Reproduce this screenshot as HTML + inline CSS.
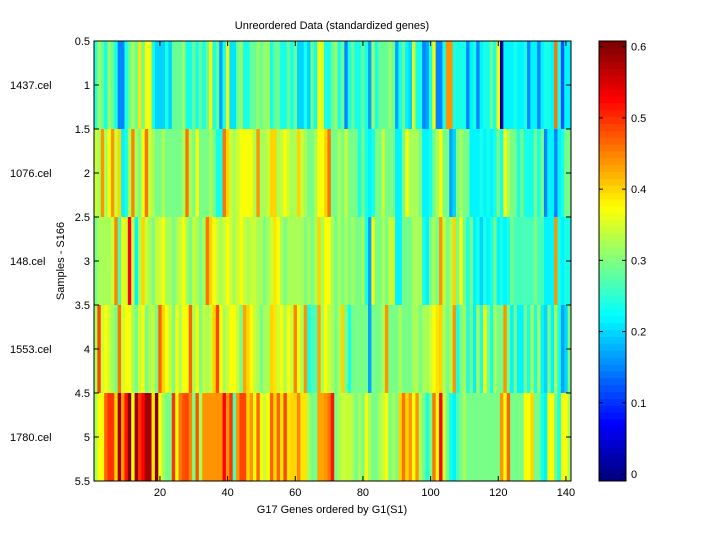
<!DOCTYPE html>
<html><head><meta charset="utf-8"><style>
body{margin:0;background:#fff;}
svg text{font-family:"Liberation Sans",Arial,sans-serif;font-size:11px;fill:#000;}
</style></head><body>
<svg id="chart" width="720" height="540" xmlns="http://www.w3.org/2000/svg">
<rect x="0" y="0" width="720" height="540" fill="#fff"/>
<g id="cells"></g>
<g id="axes"></g>
<g id="cbar"></g>
<text x="332" y="29" text-anchor="middle">Unreordered Data (standardized genes)</text>
<text x="332" y="513" text-anchor="middle">G17 Genes ordered by G1(S1)</text>
<text x="64" y="261" text-anchor="middle" transform="rotate(-90 64 261)">Samples - S166</text>
</svg>
<script>
const sampleNames = ["1437.cel","1076.cel","148.cel","1553.cel","1780.cel"];
const row1 = [.25,.31,.28,.24,.31,.28,.24,.15,.15,.24,.28,.32,.28,.39,.28,.37,.37,.24,.20,.20,.20,.24,.20,.28,.28,.28,.31,.24,.24,.28,.24,.28,.24,.28,.37,.24,.28,.17,.24,.37,.21,.21,.28,.31,.24,.24,.28,
.28,.31,.28,.31,.31,.24,.28,.28,.24,.24,.28,.24,.28,.20,.20,.24,.20,.28,.24,.37,.35,.24,.24,.28,.31,.24,.28,.15,.24,.28,.24,.24,.28,.24,.17,.31,.24,.28,.28,.28,.31,.28,.17,.24,.28,.22,.20,
.35,.24,.24,.15,.17,.24,.37,.15,.15,.24,.44,.44,.24,.24,.24,.24,.15,.22,.24,.15,.22,.24,.24,.28,.24,.37,.01,.22,.22,.22,.24,.22,.22,.24,.15,.22,.22,.15,.22,.24,.24,.22,.46,.24,.12,.22,.22];
const row2 = [.34,.32,.44,.32,.37,.44,.34,.40,.22,.24,.32,.45,.32,.29,.37,.46,.34,.32,.29,.29,.32,.29,.29,.29,.29,.29,.32,.46,.32,.29,.37,.29,.29,.29,.32,.29,.24,.24,.46,.40,.34,.32,.34,.37,.37,.37,.37,
.32,.44,.32,.32,.34,.40,.40,.32,.34,.37,.34,.32,.32,.40,.34,.32,.29,.29,.32,.37,.37,.40,.46,.29,.29,.32,.29,.34,.29,.29,.29,.24,.29,.24,.22,.24,.29,.29,.34,.29,.29,.29,.22,.22,.29,.37,.32,
.32,.32,.29,.22,.22,.24,.29,.32,.37,.29,.29,.17,.20,.29,.32,.29,.29,.22,.22,.22,.24,.22,.24,.22,.24,.29,.24,.37,.32,.29,.29,.24,.29,.24,.24,.24,.29,.24,.29,.15,.22,.22,.15,.22,.24,.29,.29];
const row3 = [.29,.32,.32,.32,.32,.34,.45,.27,.37,.34,.53,.34,.22,.32,.40,.34,.32,.29,.34,.34,.37,.32,.32,.29,.32,.34,.37,.32,.29,.34,.32,.29,.32,.46,.40,.37,.34,.32,.34,.37,.34,.32,.34,.37,.34,.32,.34,
.34,.32,.32,.29,.32,.34,.39,.37,.32,.29,.32,.32,.32,.32,.32,.29,.32,.29,.32,.40,.32,.37,.37,.32,.29,.32,.29,.32,.29,.32,.29,.29,.32,.24,.17,.37,.29,.29,.32,.29,.34,.34,.22,.22,.29,.29,.29,
.32,.32,.32,.24,.22,.29,.32,.29,.44,.34,.29,.32,.40,.29,.37,.29,.24,.29,.22,.24,.20,.24,.22,.24,.29,.22,.24,.22,.24,.29,.27,.27,.27,.27,.27,.27,.29,.27,.27,.22,.22,.22,.44,.24,.22,.24,.24];
const row4 = [.32,.49,.34,.37,.34,.32,.29,.46,.34,.37,.37,.32,.29,.34,.37,.29,.32,.34,.29,.47,.40,.37,.34,.29,.37,.32,.37,.37,.47,.32,.37,.29,.34,.32,.34,.40,.49,.37,.32,.34,.37,.37,.34,.29,.43,.40,.37,
.34,.32,.29,.32,.32,.40,.39,.34,.37,.32,.37,.34,.45,.37,.32,.44,.24,.27,.27,.43,.32,.37,.34,.32,.29,.32,.40,.29,.24,.29,.29,.29,.29,.29,.17,.29,.29,.29,.32,.44,.29,.29,.29,.32,.29,.29,.29,
.32,.32,.29,.32,.32,.34,.37,.39,.40,.32,.29,.32,.44,.24,.29,.32,.24,.29,.22,.32,.24,.37,.29,.24,.32,.29,.29,.44,.29,.22,.29,.22,.22,.29,.24,.32,.24,.32,.22,.20,.29,.22,.32,.24,.17,.20,.29];
const row5 = [.32,.37,.37,.47,.50,.50,.40,.58,.44,.52,.60,.37,.58,.50,.53,.58,.58,.39,.61,.37,.32,.29,.29,.50,.37,.46,.48,.49,.45,.29,.48,.32,.44,.44,.44,.44,.44,.44,.53,.44,.50,.27,.44,.49,.49,.40,.44,
.37,.47,.37,.34,.37,.47,.40,.47,.39,.49,.39,.40,.40,.45,.39,.39,.32,.29,.29,.43,.43,.44,.46,.52,.29,.32,.34,.34,.34,.32,.29,.32,.29,.37,.32,.29,.29,.32,.34,.37,.29,.32,.29,.40,.46,.40,.44,
.37,.44,.32,.29,.24,.29,.46,.37,.53,.34,.29,.24,.22,.27,.29,.32,.29,.29,.29,.29,.29,.29,.29,.29,.29,.29,.44,.37,.47,.29,.29,.29,.29,.37,.37,.40,.29,.29,.24,.22,.37,.37,.29,.24,.37,.37,.32];
const xTicks = [20,40,60,80,100,120,140];
const yTicks = [0.5,1,1.5,2,2.5,3,3.5,4,4.5,5,5.5];
const cTicks = [0,0.1,0.2,0.3,0.4,0.5,0.6];
const cmin = -0.0098, cmax = 0.608;

const rows = [row1,row2,row3,row4,row5];
const NS='http://www.w3.org/2000/svg';
const L=94,R=571,T=41,B=481;
const nCols = row1.length;
const xs = v => L + (v-0.5)*(R-L)/nCols;
const ys = v => T + (v-0.5)*(B-T)/rows.length;
function jet(t){
  t=Math.max(0,Math.min(1,t));
  t=Math.min(63,Math.floor(t*64))/63;
  const c=x=>Math.round(255*Math.max(0,Math.min(1,x)));
  return `rgb(${c(1.5-Math.abs(4*t-3))},${c(1.5-Math.abs(4*t-2))},${c(1.5-Math.abs(4*t-1))})`;
}
const col = v => jet((v-cmin)/(cmax-cmin));
function mk(tag,attrs,parent){const e=document.createElementNS(NS,tag);for(const k in attrs)e.setAttribute(k,attrs[k]);parent.appendChild(e);return e;}
const cells=document.getElementById('cells');
rows.forEach((r,i)=>{
  r.forEach((v,j)=>{
    const x0=xs(j+0.5), x1=xs(j+1.5);
    const e=mk('rect',{x:x0,y:ys(i+0.5),width:x1-x0+0.4,height:ys(i+1.5)-ys(i+0.5),fill:col(v)},cells);
    
    
  });
});
const ax=document.getElementById('axes');
const fr=mk('rect',{x:L,y:T,width:R-L,height:B-T,fill:'none',stroke:'#000','stroke-width':1},ax);


xTicks.forEach(v=>{
  const x=xs(v);
  mk('line',{x1:x,x2:x,y1:B,y2:B-5,stroke:'#000'},ax);
  mk('line',{x1:x,x2:x,y1:T,y2:T+5,stroke:'#000'},ax);
  const t=mk('text',{x:x,y:B+15,'text-anchor':'middle'},ax);t.textContent=v;
  
  
});
yTicks.forEach(v=>{
  const y=ys(v);
  mk('line',{x1:L,x2:L+5,y1:y,y2:y,stroke:'#000'},ax);
  mk('line',{x1:R,x2:R-5,y1:y,y2:y,stroke:'#000'},ax);
  const t=mk('text',{x:L-4,y:y+4,'text-anchor':'end'},ax);t.textContent=v;
  
  
});
sampleNames.forEach((n,i)=>{
  const t=mk('text',{x:10,y:ys(i+1)+4},ax);t.textContent=n;
  
  
});
const cb=document.getElementById('cbar');
const CL=599,CR=626;
const cy=v=>B-(v-cmin)/(cmax-cmin)*(B-T);
for(let k=0;k<64;k++){
  const y0=B-(k+1)*(B-T)/64;
  mk('rect',{x:CL,y:y0,width:CR-CL,height:(B-T)/64+0.4,fill:jet(k/63)},cb);
}
const cf=mk('rect',{x:CL,y:T,width:CR-CL,height:B-T,fill:'none',stroke:'#000'},cb);


cTicks.forEach(v=>{
  const y=cy(v);
  mk('line',{x1:CL,x2:CL+4,y1:y,y2:y,stroke:'#000'},cb);
  mk('line',{x1:CR,x2:CR-4,y1:y,y2:y,stroke:'#000'},cb);
  const t=mk('text',{x:CR+5,y:y+4},cb);t.textContent=v;
  
  
});
</script>
</body></html>
